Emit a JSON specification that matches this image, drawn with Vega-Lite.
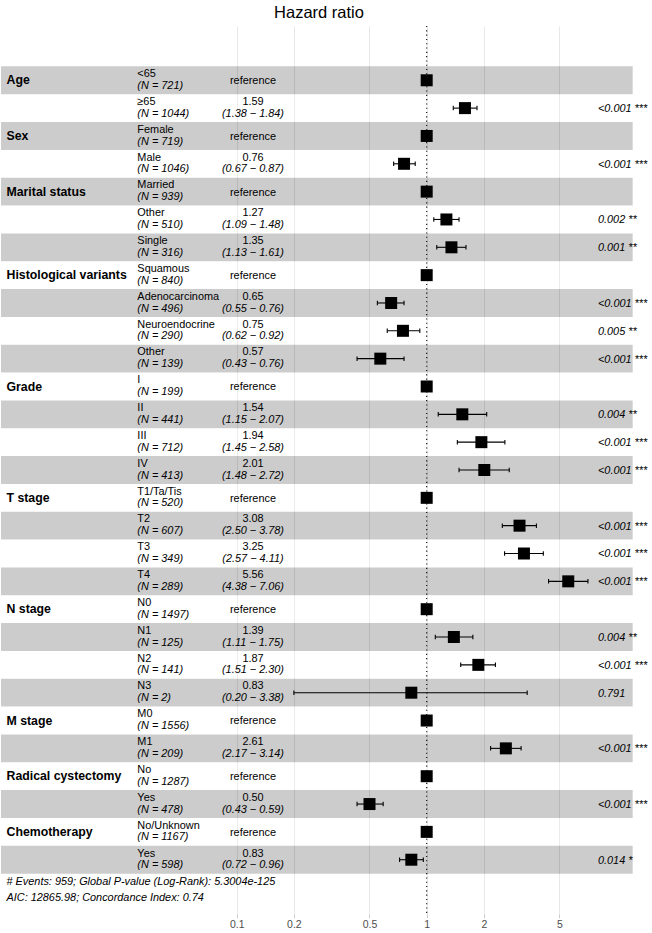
{
  "$schema": "https://vega.github.io/schema/vega-lite/v6.json",
  "width": 652,
  "height": 888,
  "autosize": {"type": "none"},
  "padding": {"left": 0, "top": 26, "right": 0, "bottom": 19},
  "background": "white",
  "config": {
    "view": {"stroke": null},
    "font": "Liberation Sans",
    "axisY": {"disable": true},
    "axisX": {"domain": false, "grid": true, "gridColor": "#DEDEDE", "gridWidth": 0.7, "ticks": true, "tickColor": "#B3B3B3", "tickSize": 3.7, "tickWidth": 0.7, "labelColor": "#4D4D4D", "labelFontSize": 10.5, "labelFont": "Liberation Sans", "labelPadding": 2}
  },
  "data": {"values": [
    {"row": 1, "var": "Age", "level": "<65", "nlab": "(N = 721)", "hr": 1, "lo": null, "hi": null, "est": "reference", "ci": "", "p": ""},
    {"row": 2, "var": "", "level": "≥65", "nlab": "(N = 1044)", "hr": 1.59, "lo": 1.38, "hi": 1.84, "est": "1.59", "ci": "(1.38 − 1.84)", "p": "<0.001 ***"},
    {"row": 3, "var": "Sex", "level": "Female", "nlab": "(N = 719)", "hr": 1, "lo": null, "hi": null, "est": "reference", "ci": "", "p": ""},
    {"row": 4, "var": "", "level": "Male", "nlab": "(N = 1046)", "hr": 0.76, "lo": 0.67, "hi": 0.87, "est": "0.76", "ci": "(0.67 − 0.87)", "p": "<0.001 ***"},
    {"row": 5, "var": "Marital status", "level": "Married", "nlab": "(N = 939)", "hr": 1, "lo": null, "hi": null, "est": "reference", "ci": "", "p": ""},
    {"row": 6, "var": "", "level": "Other", "nlab": "(N = 510)", "hr": 1.27, "lo": 1.09, "hi": 1.48, "est": "1.27", "ci": "(1.09 − 1.48)", "p": "0.002 **"},
    {"row": 7, "var": "", "level": "Single", "nlab": "(N = 316)", "hr": 1.35, "lo": 1.13, "hi": 1.61, "est": "1.35", "ci": "(1.13 − 1.61)", "p": "0.001 **"},
    {"row": 8, "var": "Histological variants", "level": "Squamous", "nlab": "(N = 840)", "hr": 1, "lo": null, "hi": null, "est": "reference", "ci": "", "p": ""},
    {"row": 9, "var": "", "level": "Adenocarcinoma", "nlab": "(N = 496)", "hr": 0.65, "lo": 0.55, "hi": 0.76, "est": "0.65", "ci": "(0.55 − 0.76)", "p": "<0.001 ***"},
    {"row": 10, "var": "", "level": "Neuroendocrine", "nlab": "(N = 290)", "hr": 0.75, "lo": 0.62, "hi": 0.92, "est": "0.75", "ci": "(0.62 − 0.92)", "p": "0.005 **"},
    {"row": 11, "var": "", "level": "Other", "nlab": "(N = 139)", "hr": 0.57, "lo": 0.43, "hi": 0.76, "est": "0.57", "ci": "(0.43 − 0.76)", "p": "<0.001 ***"},
    {"row": 12, "var": "Grade", "level": "I", "nlab": "(N = 199)", "hr": 1, "lo": null, "hi": null, "est": "reference", "ci": "", "p": ""},
    {"row": 13, "var": "", "level": "II", "nlab": "(N = 441)", "hr": 1.54, "lo": 1.15, "hi": 2.07, "est": "1.54", "ci": "(1.15 − 2.07)", "p": "0.004 **"},
    {"row": 14, "var": "", "level": "III", "nlab": "(N = 712)", "hr": 1.94, "lo": 1.45, "hi": 2.58, "est": "1.94", "ci": "(1.45 − 2.58)", "p": "<0.001 ***"},
    {"row": 15, "var": "", "level": "IV", "nlab": "(N = 413)", "hr": 2.01, "lo": 1.48, "hi": 2.72, "est": "2.01", "ci": "(1.48 − 2.72)", "p": "<0.001 ***"},
    {"row": 16, "var": "T stage", "level": "T1/Ta/Tis", "nlab": "(N = 520)", "hr": 1, "lo": null, "hi": null, "est": "reference", "ci": "", "p": ""},
    {"row": 17, "var": "", "level": "T2", "nlab": "(N = 607)", "hr": 3.08, "lo": 2.50, "hi": 3.78, "est": "3.08", "ci": "(2.50 − 3.78)", "p": "<0.001 ***"},
    {"row": 18, "var": "", "level": "T3", "nlab": "(N = 349)", "hr": 3.25, "lo": 2.57, "hi": 4.11, "est": "3.25", "ci": "(2.57 − 4.11)", "p": "<0.001 ***"},
    {"row": 19, "var": "", "level": "T4", "nlab": "(N = 289)", "hr": 5.56, "lo": 4.38, "hi": 7.06, "est": "5.56", "ci": "(4.38 − 7.06)", "p": "<0.001 ***"},
    {"row": 20, "var": "N stage", "level": "N0", "nlab": "(N = 1497)", "hr": 1, "lo": null, "hi": null, "est": "reference", "ci": "", "p": ""},
    {"row": 21, "var": "", "level": "N1", "nlab": "(N = 125)", "hr": 1.39, "lo": 1.11, "hi": 1.75, "est": "1.39", "ci": "(1.11 − 1.75)", "p": "0.004 **"},
    {"row": 22, "var": "", "level": "N2", "nlab": "(N = 141)", "hr": 1.87, "lo": 1.51, "hi": 2.30, "est": "1.87", "ci": "(1.51 − 2.30)", "p": "<0.001 ***"},
    {"row": 23, "var": "", "level": "N3", "nlab": "(N = 2)", "hr": 0.83, "lo": 0.20, "hi": 3.38, "est": "0.83", "ci": "(0.20 − 3.38)", "p": "0.791"},
    {"row": 24, "var": "M stage", "level": "M0", "nlab": "(N = 1556)", "hr": 1, "lo": null, "hi": null, "est": "reference", "ci": "", "p": ""},
    {"row": 25, "var": "", "level": "M1", "nlab": "(N = 209)", "hr": 2.61, "lo": 2.17, "hi": 3.14, "est": "2.61", "ci": "(2.17 − 3.14)", "p": "<0.001 ***"},
    {"row": 26, "var": "Radical cystectomy", "level": "No", "nlab": "(N = 1287)", "hr": 1, "lo": null, "hi": null, "est": "reference", "ci": "", "p": ""},
    {"row": 27, "var": "", "level": "Yes", "nlab": "(N = 478)", "hr": 0.50, "lo": 0.43, "hi": 0.59, "est": "0.50", "ci": "(0.43 − 0.59)", "p": "<0.001 ***"},
    {"row": 28, "var": "Chemotherapy", "level": "No/Unknown", "nlab": "(N = 1167)", "hr": 1, "lo": null, "hi": null, "est": "reference", "ci": "", "p": ""},
    {"row": 29, "var": "", "level": "Yes", "nlab": "(N = 598)", "hr": 0.83, "lo": 0.72, "hi": 0.96, "est": "0.83", "ci": "(0.72 − 0.96)", "p": "0.014 *"}
  ]},
  "layer": [
    {
      "mark": {"type": "rect", "yOffset": -13.92, "y2Offset": 13.92, "fillOpacity": 0.2, "strokeWidth": 0},
      "encoding": {
        "x": {"datum": 0.005747, "type": "quantitative", "title": null, "scale": {"type": "log", "domain": [0.005677, 15.343], "nice": false}, "axis": {"values": [0.1, 0.2, 0.5, 1, 2, 5], "format": "~g", "title": null}},
        "x2": {"datum": 12.14},
        "y": {"field": "row", "type": "quantitative", "title": null, "scale": {"domain": [-0.95, 30.95], "reverse": true, "nice": false, "zero": false}},
        "y2": {"field": "row"},
        "fill": {"condition": {"test": "datum.row % 2 === 1", "value": "#000000"}, "value": "#FFFFFF"}
      }
    },
    {
      "transform": [{"filter": "datum.lo != null"}],
      "mark": {"type": "rule", "color": "#000000", "strokeWidth": 1.1},
      "encoding": {
        "x": {"field": "lo", "type": "quantitative", "title": null},
        "x2": {"field": "hi"},
        "y": {"field": "row", "type": "quantitative", "title": null}
      }
    },
    {
      "transform": [{"filter": "datum.lo != null"}],
      "mark": {"type": "tick", "orient": "vertical", "color": "#000000", "size": 4.5, "thickness": 1.1, "opacity": 1},
      "encoding": {
        "x": {"field": "lo", "type": "quantitative", "title": null},
        "y": {"field": "row", "type": "quantitative", "title": null}
      }
    },
    {
      "transform": [{"filter": "datum.lo != null"}],
      "mark": {"type": "tick", "orient": "vertical", "color": "#000000", "size": 4.5, "thickness": 1.1, "opacity": 1},
      "encoding": {
        "x": {"field": "hi", "type": "quantitative", "title": null},
        "y": {"field": "row", "type": "quantitative", "title": null}
      }
    },
    {
      "mark": {"type": "point", "shape": "square", "filled": true, "size": 144, "color": "#000000", "opacity": 1, "strokeWidth": 0},
      "encoding": {
        "x": {"field": "hr", "type": "quantitative", "title": null},
        "y": {"field": "row", "type": "quantitative", "title": null}
      }
    },
    {
      "data": {"values": [{"ref": 1}]},
      "mark": {"type": "rule", "color": "#000000", "strokeWidth": 1.1, "strokeDash": [1.1, 3.2]},
      "encoding": {
        "x": {"field": "ref", "type": "quantitative", "title": null}
      }
    },
    {
      "transform": [{"filter": "datum.var != ''"}],
      "mark": {"type": "text", "align": "left", "baseline": "alphabetic", "dy": 4.2, "fontSize": 12.3, "fontWeight": "bold", "color": "#000000"},
      "encoding": {
        "x": {"datum": 0.006142, "type": "quantitative", "title": null},
        "y": {"field": "row", "type": "quantitative", "title": null},
        "text": {"field": "var"}
      }
    },
    {
      "mark": {"type": "text", "align": "left", "baseline": "alphabetic", "dy": -3.2, "fontSize": 10.9, "color": "#000000"},
      "encoding": {
        "x": {"datum": 0.03, "type": "quantitative", "title": null},
        "y": {"field": "row", "type": "quantitative", "title": null},
        "text": {"field": "level"}
      }
    },
    {
      "mark": {"type": "text", "align": "left", "baseline": "alphabetic", "dy": 8.6, "fontSize": 10.9, "fontStyle": "italic", "color": "#000000"},
      "encoding": {
        "x": {"datum": 0.03, "type": "quantitative", "title": null},
        "y": {"field": "row", "type": "quantitative", "title": null},
        "text": {"field": "nlab"}
      }
    },
    {
      "transform": [{"filter": "datum.est === 'reference'"}],
      "mark": {"type": "text", "align": "center", "baseline": "alphabetic", "dy": 3.9, "fontSize": 10.9, "color": "#000000"},
      "encoding": {
        "x": {"datum": 0.1218, "type": "quantitative", "title": null},
        "y": {"field": "row", "type": "quantitative", "title": null},
        "text": {"field": "est"}
      }
    },
    {
      "transform": [{"filter": "datum.est !== 'reference'"}],
      "mark": {"type": "text", "align": "center", "baseline": "alphabetic", "dy": -3.2, "fontSize": 10.9, "color": "#000000"},
      "encoding": {
        "x": {"datum": 0.1218, "type": "quantitative", "title": null},
        "y": {"field": "row", "type": "quantitative", "title": null},
        "text": {"field": "est"}
      }
    },
    {
      "transform": [{"filter": "datum.est !== 'reference'"}],
      "mark": {"type": "text", "align": "center", "baseline": "alphabetic", "dy": 8.6, "fontSize": 10.9, "fontStyle": "italic", "color": "#000000"},
      "encoding": {
        "x": {"datum": 0.1218, "type": "quantitative", "title": null},
        "y": {"field": "row", "type": "quantitative", "title": null},
        "text": {"field": "ci"}
      }
    },
    {
      "transform": [{"filter": "datum.p !== ''"}],
      "mark": {"type": "text", "align": "left", "baseline": "alphabetic", "dy": 3.9, "fontSize": 10.9, "fontStyle": "italic", "color": "#000000"},
      "encoding": {
        "x": {"datum": 7.972, "type": "quantitative", "title": null},
        "y": {"field": "row", "type": "quantitative", "title": null},
        "text": {"field": "p"}
      }
    },
    {
      "data": {"values": [{"note": "# Events: 959; Global P-value (Log-Rank): 5.3004e-125\nAIC: 12865.98; Concordance Index: 0.74"}]},
      "mark": {"type": "text", "align": "left", "baseline": "alphabetic", "dy": 11, "lineBreak": "\n", "lineHeight": 16, "fontSize": 10.9, "fontStyle": "italic", "color": "#000000"},
      "encoding": {
        "x": {"datum": 0.006142, "type": "quantitative", "title": null},
        "y": {"datum": 29.5, "type": "quantitative", "title": null},
        "text": {"field": "note"}
      }
    },
    {
      "data": {"values": [{"title": "Hazard ratio"}]},
      "mark": {"type": "text", "align": "center", "baseline": "alphabetic", "fontSize": 16.5, "color": "#000000"},
      "encoding": {
        "x": {"datum": 0.2711, "type": "quantitative", "title": null},
        "y": {"datum": -1.255, "type": "quantitative", "title": null},
        "text": {"field": "title"}
      }
    }
  ]
}
